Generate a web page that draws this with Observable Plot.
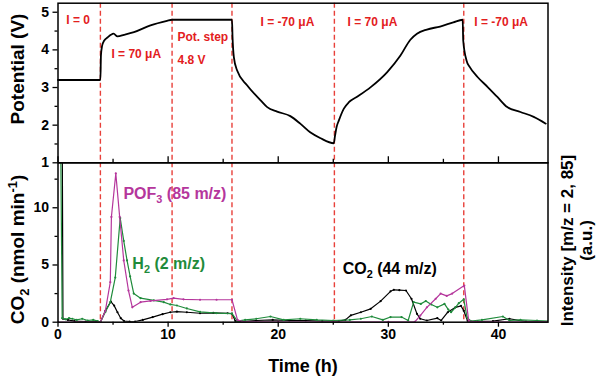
<!DOCTYPE html>
<html><head><meta charset="utf-8">
<script src="https://cdn.jsdelivr.net/npm/d3@7"></script>
<script src="https://cdn.jsdelivr.net/npm/@observablehq/plot@0.6"></script>
<style>
body{margin:0;background:#fff}
#wrap{position:relative;width:600px;height:379px;overflow:hidden;background:#fff}
#wrap svg{position:absolute;left:0;top:0}
</style></head><body><div id="wrap"></div>
<script>
// ---- data ----
const stepTimes = [3.85, 10.36, 15.8, 25.1, 36.85];

const potT = [0, 3.85, 3.9, 4.0, 4.2, 4.5, 4.8, 5.05, 5.4, 6.0, 6.9, 8.4, 9.9, 10.36, 15.8, 15.85, 15.97, 16.27, 17.17, 18.4, 19.0, 19.9, 21.1, 22.0, 22.9, 23.8, 25.05, 25.15, 25.3, 25.5, 25.96, 26.42, 27.2, 28.4, 29.9, 31.1, 32.0, 32.6, 33.5, 34.7, 35.9, 36.75, 36.8, 37.1, 37.4, 38.1, 39.0, 39.9, 40.8, 42.0, 43.2, 44.3];
const potV = [3.2, 3.2, 3.85, 4.1, 4.25, 4.33, 4.4, 4.43, 4.36, 4.4, 4.47, 4.65, 4.77, 4.8, 4.8, 4.35, 3.81, 3.45, 3.06, 2.66, 2.48, 2.36, 2.24, 2.04, 1.81, 1.66, 1.52, 1.7, 1.95, 2.12, 2.44, 2.61, 2.76, 3.01, 3.41, 3.85, 4.27, 4.43, 4.54, 4.62, 4.73, 4.8, 4.25, 3.72, 3.54, 3.28, 3.02, 2.75, 2.48, 2.35, 2.22, 2.04];

const co2T = [0, 0.33, 0.45, 0.9, 1.5, 2.5, 3.5, 3.85, 4.3, 4.8, 5.1, 5.4, 5.7, 6.0, 6.5, 7.0, 7.7, 8.6, 9.5, 10.2, 10.8, 11.7, 12.9, 14.1, 15.4, 15.8, 16.1, 16.6, 18.0, 19.5, 21.0, 22.5, 24.0, 25.5, 26.1, 26.6, 27.5, 28.4, 29.3, 30.2, 30.5, 31.0, 31.6, 32.1, 32.6, 32.9, 33.5, 34.45, 34.8, 35.4, 36.1, 36.6, 36.85, 37.2, 38.0, 39.5, 41.0, 42.5, 44.5];
const co2V = [30, 30, 0.3, 0.2, 0.1, 0.05, 0.05, 0, 1.0, 1.8, 1.45, 0.87, 0.35, 0.1, 0.05, 0.05, 0.2, 0.45, 0.7, 0.87, 0.93, 0.87, 0.78, 0.82, 0.78, 0.75, 0.1, 0.05, 0.15, 0.2, 0.15, 0.15, 0.1, 0.1, 0.2, 0.6, 0.87, 1.17, 1.84, 2.7, 2.83, 2.8, 2.77, 2.05, 0.73, 0.3, 0.15, 0.35, 0.15, 0.87, 1.3, 1.43, 1.0, 0.1, 0.05, 0.1, 0.3, 0.05, 0.05];

const h2T = [0, 0.12, 0.38, 0.7, 1.0, 1.3, 1.7, 2.2, 2.7, 3.2, 3.6, 3.85, 4.3, 4.75, 5.2, 5.65, 5.97, 6.27, 6.55, 6.88, 7.5, 8.7, 9.6, 10.2, 10.8, 11.7, 12.9, 14.4, 15.8, 16.3, 17.0, 18.0, 19.3, 20.5, 22.0, 23.5, 25.0, 26.5, 27.5, 28.5, 29.5, 30.2, 31.2, 31.8, 32.3, 32.95, 33.4, 33.9, 34.45, 35.1, 35.45, 35.7, 36.1, 36.4, 36.85, 37.15, 37.5, 38.5, 40.4, 41.0, 42.0, 43.5, 44.5];
const h2V = [30, 30, 0.35, 0.25, 0.35, 0.3, 0.2, 0.3, 0.15, 0.2, 0.1, 0, 0.9, 1.75, 3.9, 9.1, 7.1, 5.4, 4.0, 2.5, 2.1, 1.9, 1.75, 1.55, 1.46, 1.2, 0.9, 0.8, 0.75, 0.1, 0.2, 0.3, 0.5, 0.2, 0.3, 0.2, 0.15, 0.2, 0.3, 0.5, 0.2, 0.45, 0.45, 0.15, 1.75, 1.6, 1.85, 1.55, 1.3, 1.6, 1.1, 0.87, 1.3, 1.66, 2.0, 0.4, 0.1, 0.2, 0.5, 0.15, 0.2, 0.15, 0.1];

const pofT = [0, 3.85, 4.3, 4.75, 4.85, 5.25, 5.6, 5.97, 6.4, 6.75, 7.5, 8.4, 9.9, 10.5, 11.4, 12.9, 14.4, 15.8, 16.3, 16.7, 20, 25, 30, 32.4, 32.9, 33.5, 34.3, 34.75, 35.3, 35.8, 36.9, 37.3, 38, 44.5];
const pofV = [0, 0, 1.0, 3.5, 9.2, 13.0, 9.2, 5.4, 2.77, 1.3, 1.75, 1.86, 2.0, 2.1, 2.0, 1.96, 1.96, 1.96, 0.2, 0.05, 0.03, 0.03, 0.02, 0.02, 0.58, 1.3, 2.05, 2.5, 2.3, 2.5, 3.2, 0.1, 0.03, 0.03];

const annT = [0.75, 4.85, 10.85, 10.85, 18.4, 26.3, 37.8];
const annV = [4.78, 3.88, 4.33, 3.72, 4.73, 4.73, 4.73];
const annText = ["I = 0", "I = 70 μA", "Pot. step", "4.8 V", "I = -70 μA", "I = 70 μA", "I = -70 μA"];

const serT = [5.94, 6.75, 25.85];
const serV = [11.25, 5.1, 4.67];
const serText = ["POF₃ (85 m/z)", "H₂ (2 m/z)", "CO₂ (44 m/z)"];

const xMajor = [0, 10, 20, 30, 40];
const xMinor = [5, 15, 25, 35];
const potMajor = [1, 2, 3, 4, 5];
const potMinor = [1.5, 2.5, 3.5, 4.5];
const co2Major = [0, 5, 10];
const co2Minor = [2.5, 7.5, 12.5];

// ---- build ----
const zip = (t, v) => t.map((d, i) => ({t: d, v: v[i]}));
const pot = zip(potT, potV);
const co2 = zip(co2T, co2V);
const h2 = zip(h2T, h2V);
const pof = zip(pofT, pofV);
const ann = annT.map((t, i) => ({t, v: annV[i], s: annText[i]}));
const COL = {co2: "#000000", h2: "#1f8b3b", pof: "#b5369c"};
const serCol = [COL.pof, COL.h2, COL.co2];
const ser = serT.map((t, i) => ({t, v: serV[i], s: serText[i], c: serCol[i]}));

const RED = "#e8403a";
const W = 600, H = 379, ML = 57.5, MR = 52.5;
const FONT = "'Liberation Sans', Arial, Helvetica, sans-serif";
const plotStyle = {fontFamily: FONT, fontSize: "14px", fontWeight: "bold", color: "#000", background: "none", overflow: "visible"};
const xDomain = [0, 44.5];
const fmt = d => String(d);
const blank = () => "";

const topY0 = 2.7, topY1 = 162.3;
const botY1 = 321.7;

const titleOpts = {text: d => d, textAnchor: "middle", lineAnchor: "middle", fontSize: 18, fontWeight: "bold"};

const bottomPlot = Plot.plot({
  width: W, height: H, marginLeft: ML, marginRight: MR, marginTop: topY1, marginBottom: H - botY1,
  style: plotStyle,
  x: {domain: xDomain},
  y: {domain: [0, 13.93]},
  marks: [
    Plot.ruleX(stepTimes, {stroke: RED, strokeWidth: 1.4, strokeDasharray: "5,3"}),
    Plot.line(co2, {x: "t", y: "v", stroke: COL.co2, strokeWidth: 1.2, clip: true}),
    Plot.dot(co2, {x: "t", y: "v", fill: COL.co2, r: 1.1, clip: true}),
    Plot.line(h2, {x: "t", y: "v", stroke: COL.h2, strokeWidth: 1.2, clip: true}),
    Plot.dot(h2, {x: "t", y: "v", fill: COL.h2, r: 1.1, clip: true}),
    Plot.line(pof, {x: "t", y: "v", stroke: COL.pof, strokeWidth: 1.2, clip: true}),
    Plot.dot(pof, {x: "t", y: "v", fill: COL.pof, r: 1.1, clip: true}),
    Plot.frame({stroke: "#000", strokeWidth: 1.5}),
    Plot.axisX({ticks: xMajor, tickSize: 5, tickPadding: 2, tickFormat: fmt, strokeWidth: 1.3, label: null}),
    Plot.axisX({ticks: xMinor, tickSize: 3, tickFormat: blank, strokeWidth: 1.3, label: null}),
    Plot.axisY({ticks: co2Major, tickSize: 5, tickPadding: 4, tickFormat: fmt, strokeWidth: 1.3, label: null}),
    Plot.axisY({ticks: co2Minor, tickSize: 3, tickFormat: blank, strokeWidth: 1.3, label: null}),
    Plot.text(ser, {x: "t", y: "v", text: "s", fill: "c", textAnchor: "start", fontSize: 16, fontWeight: "bold"}),
    Plot.text(["CO₂ (nmol min⁻¹)"], {...titleOpts, frameAnchor: "left", rotate: -90, dx: -40, dy: 7, fontSize: 19}),
    Plot.text(["Time (h)"], {...titleOpts, frameAnchor: "bottom", dy: 44}),
    Plot.text(["Intensity [m/z = 2, 85]\n(a.u.)"], {...titleOpts, frameAnchor: "right", rotate: -90, dx: 28.5, dy: -2, lineHeight: 1.08, fontSize: 17})
  ]
});

const topPlot = Plot.plot({
  width: W, height: H, marginLeft: ML, marginRight: MR, marginTop: topY0, marginBottom: H - topY1,
  style: plotStyle,
  x: {domain: xDomain, axis: null},
  y: {domain: [1, 5.24]},
  marks: [
    Plot.ruleX(stepTimes, {stroke: RED, strokeWidth: 1.4, strokeDasharray: "5,3"}),
    Plot.line(pot, {x: "t", y: "v", stroke: "#000", strokeWidth: 1.8, curve: "monotone-x"}),
    Plot.frame({stroke: "#000", strokeWidth: 1.5}),
    Plot.tickX(xMajor, {x: d => d, insetTop: (topY1 - topY0) - 6, strokeWidth: 1.3}),
    Plot.tickX(xMinor, {x: d => d, insetTop: (topY1 - topY0) - 3.5, strokeWidth: 1.3}),
    Plot.axisY({ticks: potMajor, tickSize: 5, tickPadding: 4, tickFormat: fmt, strokeWidth: 1.3, label: null}),
    Plot.axisY({ticks: potMinor, tickSize: 3, tickFormat: blank, strokeWidth: 1.3, label: null}),
    Plot.text(ann, {x: "t", y: "v", text: "s", fill: "#e3201d", textAnchor: "start", fontSize: 12, fontWeight: "bold"}),
    Plot.text(["Potential (V)"], {...titleOpts, frameAnchor: "left", rotate: -90, dx: -40, dy: -14, fontSize: 19})
  ]
});

const wrap = document.getElementById("wrap");
wrap.appendChild(bottomPlot);
wrap.appendChild(topPlot);

// render Unicode sub/superscripts as real shifted tspans
const subMap = {"₂": "2", "₃": "3"};
const supMap = {"⁻": "-", "¹": "1"};
function richify(svg) {
  d3.select(svg).selectAll("text").each(function () {
    const el = this;
    if (el.querySelector("tspan")) return;
    const s = el.textContent;
    if (!/[₂₃⁻¹]/.test(s)) return;
    const fs = parseFloat(getComputedStyle(el).fontSize) || 16;
    const segs = [];
    for (const ch of s) {
      const type = subMap[ch] ? "sub" : supMap[ch] ? "sup" : "n";
      const c = subMap[ch] || supMap[ch] || ch;
      if (segs.length && segs[segs.length - 1].type === type) segs[segs.length - 1].s += c;
      else segs.push({type, s: c});
    }
    el.textContent = "";
    let cur = 0;
    for (const g of segs) {
      const target = g.type === "sub" ? 0.28 * fs : g.type === "sup" ? -0.38 * fs : 0;
      const t = d3.select(el).append("tspan").text(g.s).attr("dy", (target - cur).toFixed(2));
      if (g.type !== "n") t.attr("font-size", (fs * 0.68).toFixed(1));
      cur = target;
    }
  });
}
richify(bottomPlot);
richify(topPlot);
</script>
</body></html>
